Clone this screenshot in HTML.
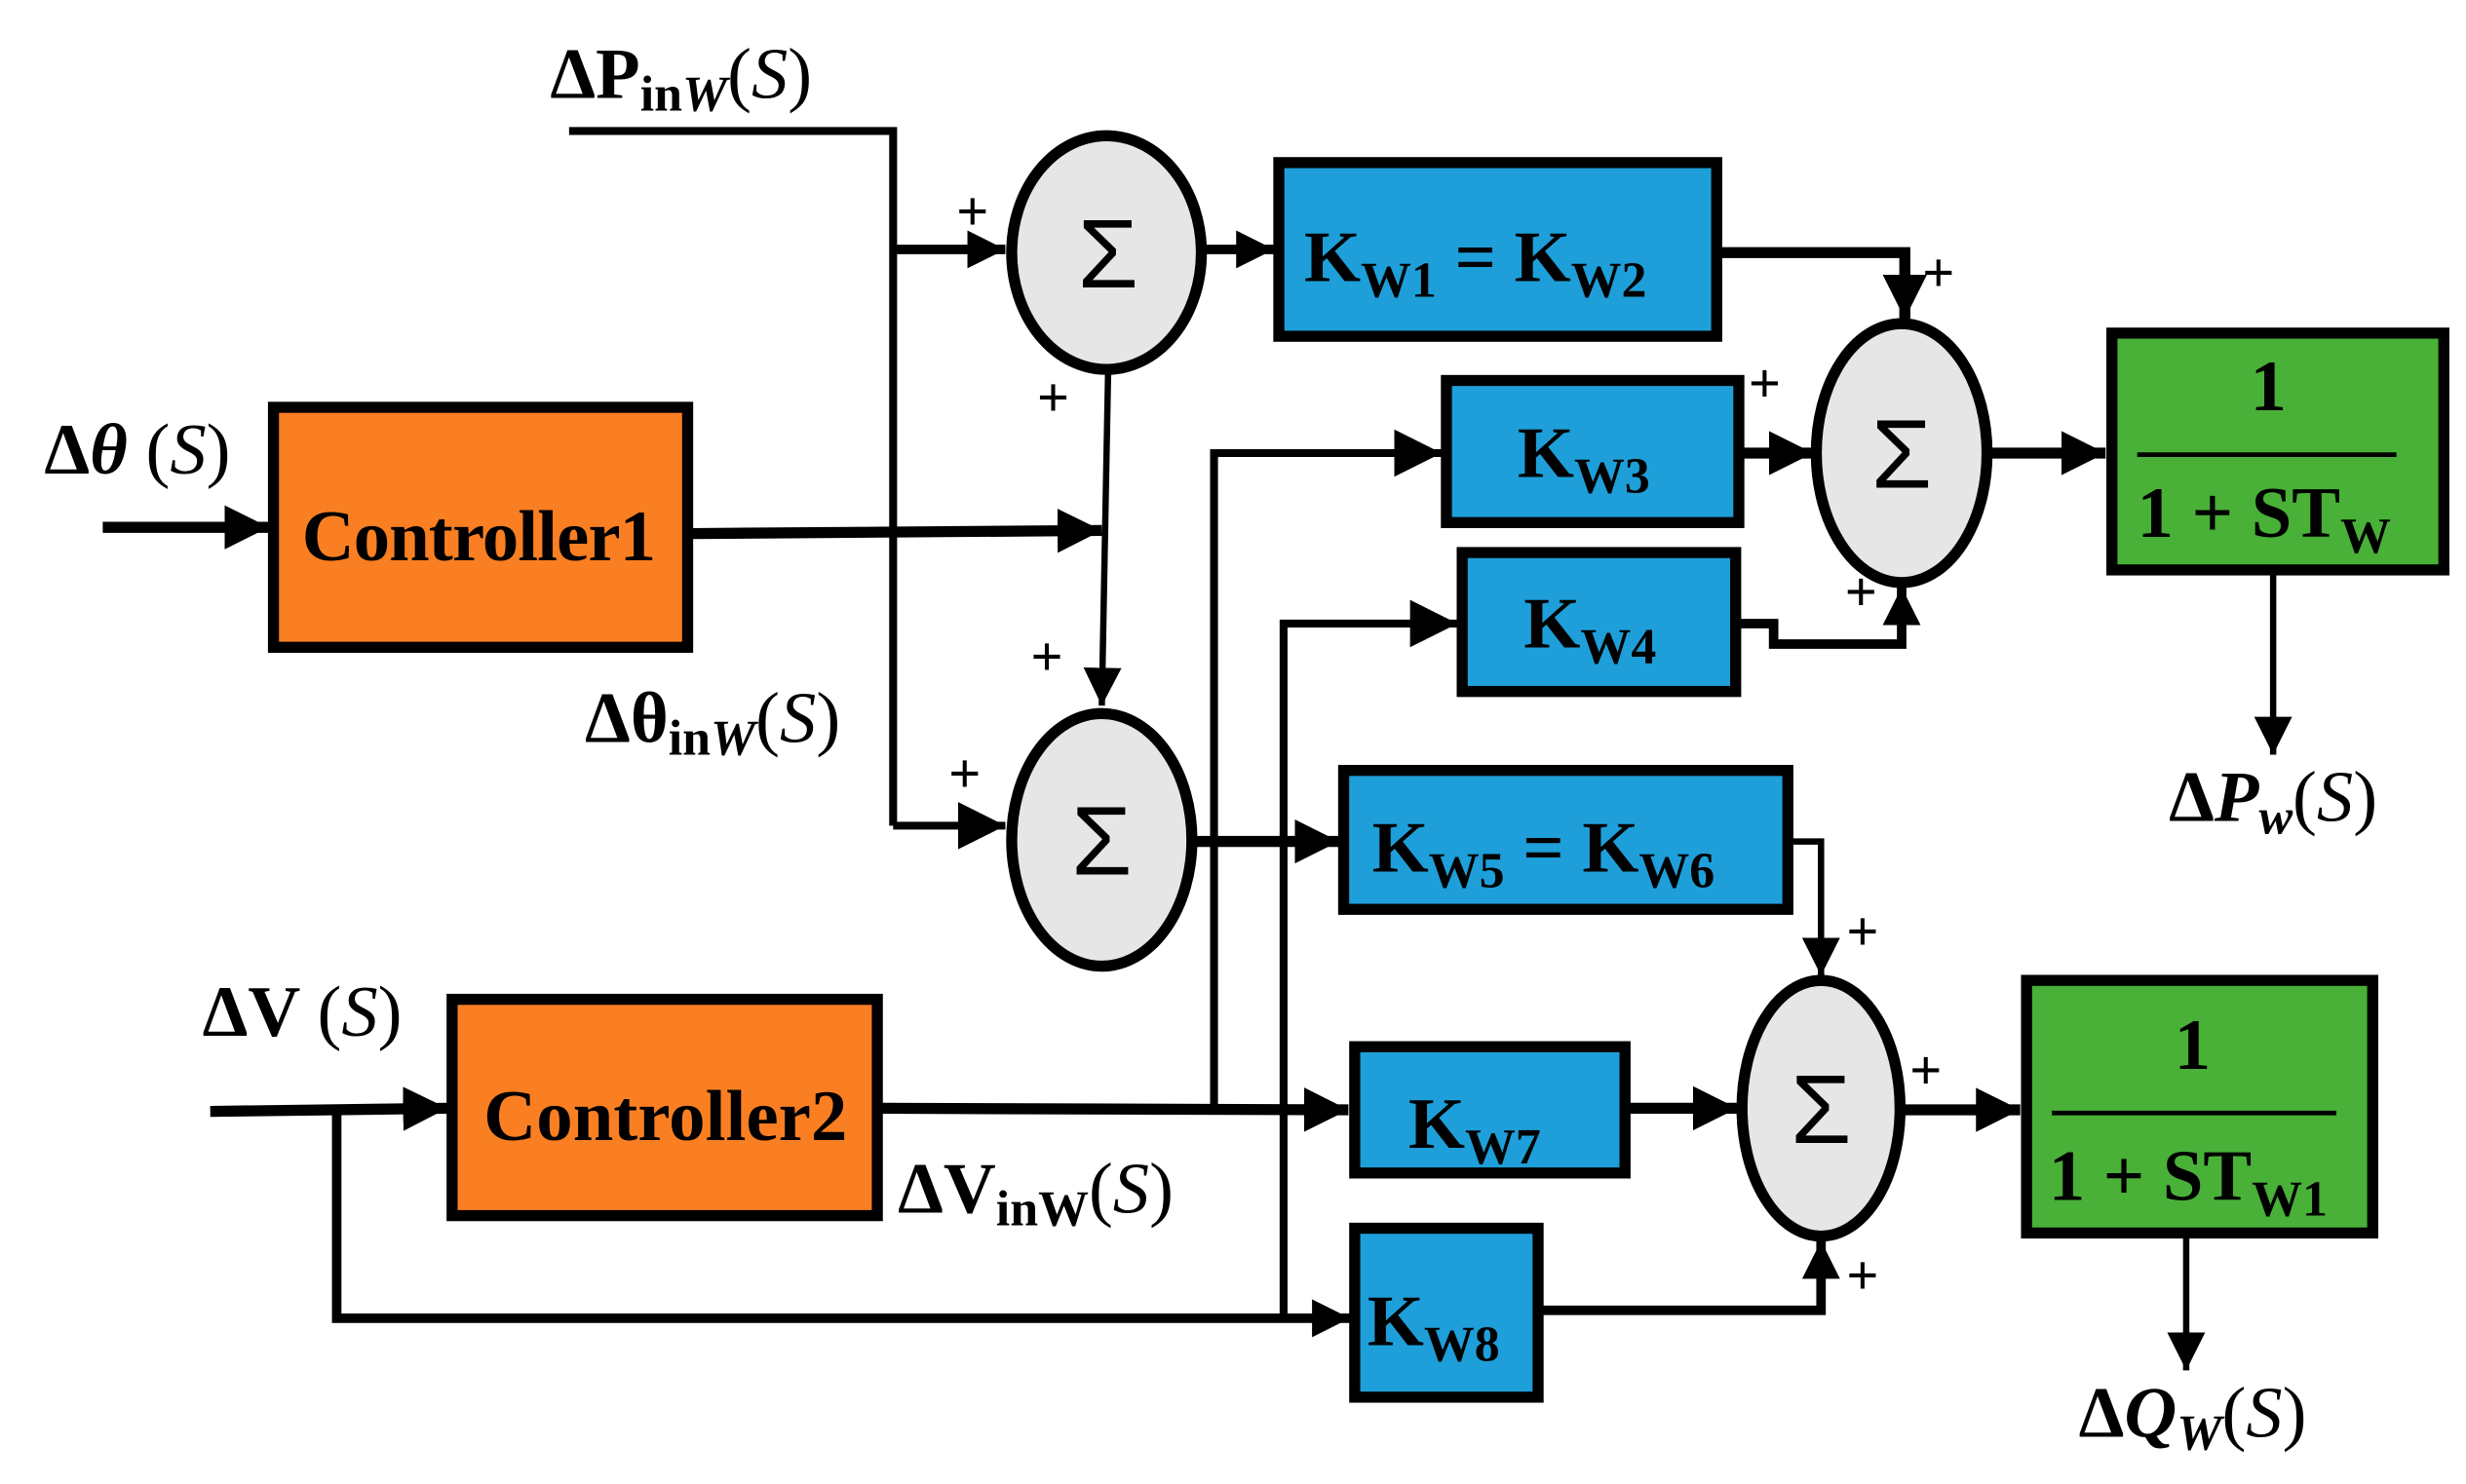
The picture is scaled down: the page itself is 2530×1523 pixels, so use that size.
<!DOCTYPE html>
<html><head><meta charset="utf-8"><style>
html,body{margin:0;padding:0;background:#fff;}
svg{display:block;}
text{font-family:"Liberation Serif",serif;font-weight:bold;fill:#000;}
.s{font-family:"Liberation Sans",sans-serif;font-weight:normal;}
</style></head><body>
<svg width="2530" height="1523" viewBox="0 0 1560 940" preserveAspectRatio="none" xmlns="http://www.w3.org/2000/svg">
<defs>
<marker id="a" viewBox="0 0 10 10" refX="10" refY="5" markerWidth="4" markerHeight="4" markerUnits="strokeWidth" orient="auto"><path d="M0,0 L10,5 L0,10 z" fill="#000"/></marker>
<marker id="b" viewBox="0 0 10 10" refX="10" refY="5" markerWidth="6" markerHeight="6" markerUnits="strokeWidth" orient="auto"><path d="M0,0 L10,5 L0,10 z" fill="#000"/></marker>
</defs>
<g fill="none" stroke="#000" stroke-linejoin="miter">
<polyline points="360,83 565,83 565,523" stroke-width="5"/>
<polyline points="565,523 636,523" stroke-width="5" marker-end="url(#b)"/>
<polyline points="565,158 636,158" stroke-width="6" marker-end="url(#a)"/>
<line x1="701" y1="235" x2="697" y2="447" stroke-width="4" marker-end="url(#b)"/>
<line x1="65" y1="334" x2="170" y2="334" stroke-width="7" marker-end="url(#a)"/>
<line x1="437" y1="338" x2="697" y2="336" stroke-width="7" marker-end="url(#a)"/>
<line x1="760" y1="158" x2="806" y2="158" stroke-width="6" marker-end="url(#a)"/>
<polyline points="1088,160 1205,160 1205,202" stroke-width="7" marker-end="url(#a)"/>
<polyline points="768,700 768,287 912,287" stroke-width="5" marker-end="url(#b)"/>
<polyline points="812,835 812,395 922,395" stroke-width="5" marker-end="url(#b)"/>
<line x1="1102" y1="287" x2="1147" y2="287" stroke-width="7" marker-end="url(#a)"/>
<polyline points="1100,395 1122,395 1122,408 1203,408 1203,372" stroke-width="6" marker-end="url(#a)"/>
<line x1="1258" y1="287" x2="1332" y2="287" stroke-width="7" marker-end="url(#a)"/>
<line x1="1438" y1="363" x2="1438" y2="478" stroke-width="4" marker-end="url(#b)"/>
<line x1="755" y1="533" x2="847" y2="533" stroke-width="7" marker-end="url(#a)"/>
<polyline points="1133,533 1152,533 1152,618" stroke-width="4" marker-end="url(#b)"/>
<line x1="133" y1="704" x2="283" y2="702" stroke-width="7" marker-end="url(#a)"/>
<polyline points="213,702 213,835 854,835" stroke-width="6" marker-end="url(#a)"/>
<line x1="557" y1="702" x2="853" y2="703" stroke-width="7" marker-end="url(#a)"/>
<line x1="1030" y1="702" x2="1099" y2="702" stroke-width="7" marker-end="url(#a)"/>
<polyline points="975,830 1152,830 1152,786" stroke-width="6" marker-end="url(#a)"/>
<line x1="1204" y1="703" x2="1278" y2="703" stroke-width="7" marker-end="url(#a)"/>
<line x1="1383" y1="783" x2="1383" y2="868" stroke-width="4" marker-end="url(#b)"/>
</g>
<g stroke="#000" stroke-width="7">
<rect x="173" y="258" width="262" height="152" fill="#F97F22"/>
<rect x="286" y="633" width="269" height="137" fill="#F97F22"/>
<rect x="809" y="103" width="277" height="110" fill="#1E9FD9"/>
<rect x="915" y="241" width="185" height="90" fill="#1E9FD9"/>
<rect x="925" y="350" width="173" height="88" fill="#1E9FD9"/>
<rect x="850" y="488" width="281" height="88" fill="#1E9FD9"/>
<rect x="857" y="663" width="171" height="80" fill="#1E9FD9"/>
<rect x="857" y="778" width="116" height="107" fill="#1E9FD9"/>
<rect x="1336" y="211" width="210" height="150" fill="#49B038"/>
<rect x="1282" y="621" width="219" height="160" fill="#49B038"/>
<ellipse cx="700" cy="160" rx="60" ry="74" fill="#E6E6E6"/>
<ellipse cx="697" cy="532" rx="57" ry="80" fill="#E6E6E6"/>
<ellipse cx="1203" cy="287" rx="54" ry="82" fill="#E6E6E6"/>
<ellipse cx="1152" cy="702" rx="50" ry="81" fill="#E6E6E6"/>
</g>
<line x1="1352" y1="288" x2="1516" y2="288" stroke="#000" stroke-width="3"/>
<line x1="1298" y1="705" x2="1478" y2="705" stroke="#000" stroke-width="3"/>
<g font-size="62" text-anchor="middle">
<text class="s" x="701" y="182" font-size="62">Σ</text>
<text class="s" x="697" y="554" font-size="62">Σ</text>
<text class="s" x="1203" y="309" font-size="62">Σ</text>
<text class="s" x="1152" y="724" font-size="62">Σ</text>
</g>
<g font-size="46">
<text x="191" y="355" textLength="224">Controller1</text>
<text x="306" y="722" textLength="230">Controller2</text>
<text x="825" y="178">K<tspan font-size="32" dy="10">W1</tspan><tspan dy="-10"> = K</tspan><tspan font-size="32" dy="10">W2</tspan></text>
<text x="960" y="302">K<tspan font-size="32" dy="10">W3</tspan></text>
<text x="964" y="410">K<tspan font-size="32" dy="10">W4</tspan></text>
<text x="868" y="552">K<tspan font-size="32" dy="10">W5</tspan><tspan dy="-10"> = K</tspan><tspan font-size="32" dy="10">W6</tspan></text>
<text x="891" y="727">K<tspan font-size="32" dy="10">W7</tspan></text>
<text x="865" y="852">K<tspan font-size="32" dy="10">W8</tspan></text>
<text x="1435" y="260" text-anchor="middle">1</text>
<text x="1352" y="340">1 + ST<tspan font-size="32" dy="10">W</tspan></text>
<text x="1387" y="677" text-anchor="middle">1</text>
<text x="1296" y="760">1 + ST<tspan font-size="32" dy="10">W1</tspan></text>
</g>
<g font-size="46">
<text x="348" y="62">ΔP<tspan font-size="32" dy="8">in<tspan font-style="italic">W</tspan></tspan><tspan dy="-8" font-weight="normal">(</tspan><tspan font-style="italic" font-weight="normal">S</tspan><tspan font-weight="normal">)</tspan></text>
<text x="28" y="300">Δ<tspan font-style="italic">θ</tspan> <tspan font-weight="normal">(</tspan><tspan font-style="italic" font-weight="normal">S</tspan><tspan font-weight="normal">)</tspan></text>
<text x="370" y="470">Δθ<tspan font-size="32" dy="8">in<tspan font-style="italic">W</tspan></tspan><tspan dy="-8" font-weight="normal">(</tspan><tspan font-style="italic" font-weight="normal">S</tspan><tspan font-weight="normal">)</tspan></text>
<text x="128" y="656">ΔV <tspan font-weight="normal">(</tspan><tspan font-style="italic" font-weight="normal">S</tspan><tspan font-weight="normal">)</tspan></text>
<text x="568" y="768">ΔV<tspan font-size="32" dy="8">inW</tspan><tspan dy="-8" font-weight="normal">(</tspan><tspan font-style="italic" font-weight="normal">S</tspan><tspan font-weight="normal">)</tspan></text>
<text x="1372" y="520">Δ<tspan font-style="italic">P</tspan><tspan font-size="32" dy="8" font-style="italic">w</tspan><tspan dy="-8" font-weight="normal">(</tspan><tspan font-style="italic" font-weight="normal">S</tspan><tspan font-weight="normal">)</tspan></text>
<text x="1315" y="910">Δ<tspan font-style="italic">Q</tspan><tspan font-size="32" dy="8" font-style="italic">W</tspan><tspan dy="-8" font-weight="normal">(</tspan><tspan font-style="italic" font-weight="normal">S</tspan><tspan font-weight="normal">)</tspan></text>
</g>
<g font-size="36">
<text x="605" y="146">+</text>
<text x="656" y="264">+</text>
<text x="652" y="428">+</text>
<text x="600" y="502">+</text>
<text x="1216" y="185">+</text>
<text x="1106" y="255">+</text>
<text x="1167" y="387">+</text>
<text x="1168" y="602">+</text>
<text x="1208" y="690">+</text>
<text x="1168" y="820">+</text>
</g>
</svg>
</body></html>
